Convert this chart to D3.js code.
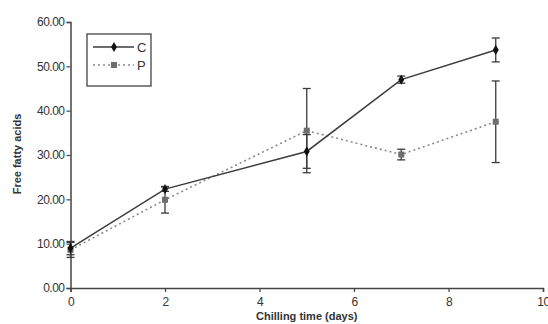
<!DOCTYPE html>
<html>
<head>
<meta charset="utf-8">
<script src="https://cdn.jsdelivr.net/npm/d3@7"></script>
<style>
  html, body { margin: 0; padding: 0; background: #fff; }
  svg { display: block; font-family: "Liberation Sans", Arial, sans-serif; }
</style>
</head>
<body>
<svg id="chart" width="548" height="324"></svg>
<script>
// Chilling time (days) and free fatty acid content with standard errors
const days = [0, 2, 5, 7, 9];
const seriesC = [9.0, 22.3, 30.8, 47.0, 53.7];
const errorC  = [1.5, 0.5, 3.8, 0.8, 2.7];
const seriesP = [8.6, 19.9, 35.5, 30.1, 37.5];
const errorP  = [1.7, 3.0, 9.5, 1.2, 9.2];
const xTicks = [0, 2, 4, 6, 8, 10];
const yTicks = [0, 10, 20, 30, 40, 50, 60];
const seriesNames = ["C", "P"];

const svg = d3.select("#chart");
const x = d3.scaleLinear().domain([0, 10]).range([70.5, 543]);
const y = d3.scaleLinear().domain([0, 60]).range([288, 22]);

const axisColor = "#444";
const textColor = "#333";

// Axes
const yAxis = svg.append("g")
  .attr("transform", `translate(${x(0)},0)`)
  .call(d3.axisLeft(y).tickValues(yTicks).tickFormat(d3.format(".2f")).tickSize(4).tickPadding(2));
const xAxis = svg.append("g")
  .attr("transform", `translate(0,${y(0)})`)
  .call(d3.axisBottom(x).tickValues(xTicks).tickFormat(d3.format("d")).tickSize(4).tickPadding(5));

[xAxis, yAxis].forEach(g => {
  g.select(".domain").attr("stroke", axisColor).attr("stroke-width", 1.5);
  g.selectAll(".tick line").attr("stroke", axisColor).attr("stroke-width", 1.2);
  g.selectAll(".tick text").attr("fill", textColor).style("font-size", "12px")
    .style("letter-spacing", "-0.5px");
});

// Axis titles
svg.append("text")
  .attr("x", (x(0) + x(10)) / 2).attr("y", 320)
  .attr("text-anchor", "middle")
  .attr("fill", textColor)
  .style("font-size", "11px").style("font-weight", "bold")
  .text("Chilling time (days)");
svg.append("text")
  .attr("transform", "translate(21,154) rotate(-90)")
  .attr("text-anchor", "middle")
  .attr("fill", textColor)
  .style("font-size", "11px").style("font-weight", "bold")
  .text("Free fatty acids");

const line = d3.line().x(d => x(d[0])).y(d => y(d[1]));

function drawErrors(vals, errs, color) {
  const g = svg.append("g").attr("stroke", color).attr("stroke-width", 1.3);
  days.forEach((d, i) => {
    const cx = x(d), lo = y(vals[i] - errs[i]), hi = y(vals[i] + errs[i]);
    g.append("line").attr("x1", cx).attr("x2", cx).attr("y1", lo).attr("y2", hi);
    g.append("line").attr("x1", cx - 4).attr("x2", cx + 4).attr("y1", lo).attr("y2", lo);
    g.append("line").attr("x1", cx - 4).attr("x2", cx + 4).attr("y1", hi).attr("y2", hi);
  });
}

// Series P (dotted, square markers)
drawErrors(seriesP, errorP, "#3a3a3a");
svg.append("path")
  .datum(days.map((d, i) => [d, seriesP[i]]))
  .attr("fill", "none").attr("stroke", "#8a8a8a").attr("stroke-width", 1.6)
  .attr("stroke-dasharray", "2,3")
  .attr("d", line);
svg.append("g").selectAll("rect")
  .data(days.map((d, i) => [d, seriesP[i]]))
  .join("rect")
  .attr("x", d => x(d[0]) - 3).attr("y", d => y(d[1]) - 3)
  .attr("width", 6).attr("height", 6)
  .attr("fill", "#6e6e6e");

// Series C (solid, diamond markers)
drawErrors(seriesC, errorC, "#3a3a3a");
svg.append("path")
  .datum(days.map((d, i) => [d, seriesC[i]]))
  .attr("fill", "none").attr("stroke", "#3c3c3c").attr("stroke-width", 1.5)
  .attr("d", line);
const diamond = d3.symbol().type(d3.symbolDiamond).size(30);
svg.append("g").selectAll("path")
  .data(days.map((d, i) => [d, seriesC[i]]))
  .join("path")
  .attr("transform", d => `translate(${x(d[0])},${y(d[1])})`)
  .attr("d", diamond)
  .attr("fill", "#111");

// Legend
const legend = svg.append("g");
legend.append("rect")
  .attr("x", 87).attr("y", 34).attr("width", 64).attr("height", 52)
  .attr("fill", "#fff").attr("stroke", "#444").attr("stroke-width", 1.3);
const legendY = [47, 65];
seriesNames.forEach((name, i) => {
  const ly = legendY[i];
  if (name === "C") {
    legend.append("line").attr("x1", 93).attr("x2", 134).attr("y1", ly).attr("y2", ly)
      .attr("stroke", "#3c3c3c").attr("stroke-width", 1.5);
    legend.append("path").attr("transform", `translate(114,${ly})`).attr("d", diamond).attr("fill", "#111");
  } else {
    legend.append("line").attr("x1", 93).attr("x2", 134).attr("y1", ly).attr("y2", ly)
      .attr("stroke", "#8a8a8a").attr("stroke-width", 1.6).attr("stroke-dasharray", "2,3");
    legend.append("rect").attr("x", 111).attr("y", ly - 3).attr("width", 6).attr("height", 6).attr("fill", "#6e6e6e");
  }
  legend.append("text").attr("x", 137).attr("y", ly + 4.5)
    .attr("fill", textColor).style("font-size", "13px").text(name);
});
</script>
</body>
</html>
